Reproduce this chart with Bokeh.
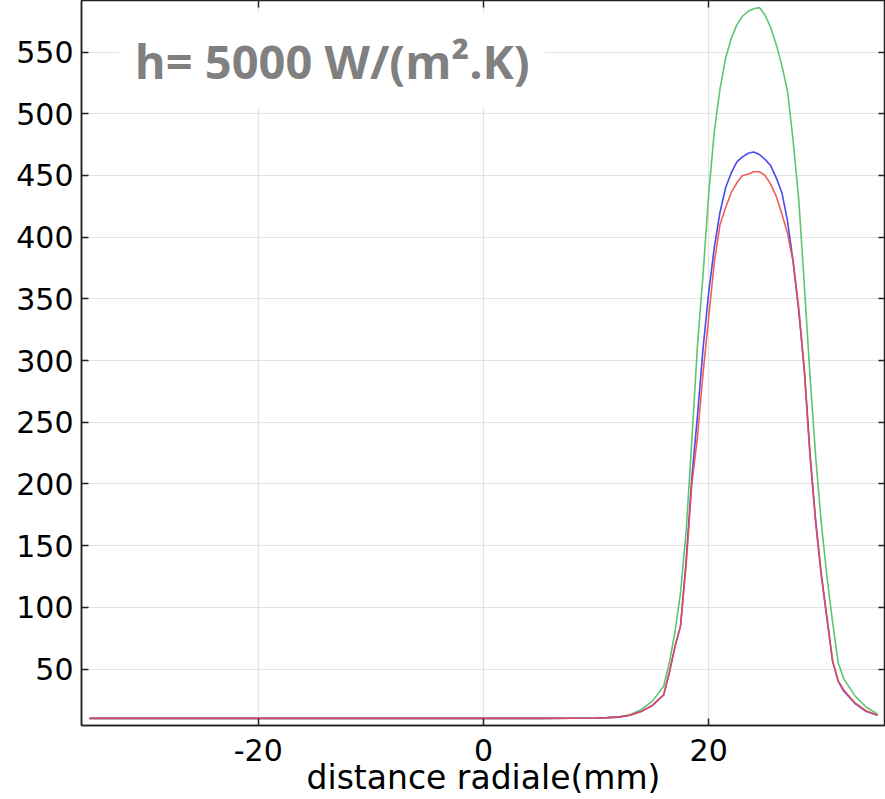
from bokeh.plotting import figure
from bokeh.models import Range1d, LinearAxis, FixedTicker, Label
from bokeh.embed import file_html
from bokeh.resources import INLINE

# ---- data ----
x_mm = [-35, -30, -25, -20, -15, -10, -5, 0, 5, 8, 10, 11, 12, 13, 14, 15, 16,
        16.5, 17, 17.5, 18, 18.5, 19, 19.5, 20, 20.5, 21, 21.5, 22, 22.5, 23, 23.5,
        24, 24.5, 25, 25.5, 26, 26.5, 27, 27.5, 28, 28.5, 29, 29.5, 30, 30.5, 31,
        31.5, 32, 33, 34, 35]

T_green = [10, 10, 10, 10, 10, 10, 10, 10, 10, 10.1, 10.3, 10.6, 11.2, 13.0, 17, 24, 36,
           55, 80, 112, 162, 235, 312, 370, 435, 486, 520, 545, 561, 572, 579, 583,
           585, 586, 580, 570, 556, 539, 518, 478, 430, 360, 287, 222, 168, 125, 88,
           55, 42, 28, 19, 13.5]

T_blue = [10, 10, 10, 10, 10, 10, 10, 10, 10, 10.1, 10.3, 10.6, 11.0, 12.5, 15.5, 20.5, 29,
          47, 68, 85, 138, 205, 255, 310, 355, 392, 420, 440, 452, 461, 465, 468,
          469, 467, 463, 458, 448, 436, 413, 380, 340, 292, 224, 170, 127, 92, 56,
          40, 32, 22, 15.5, 12.5]

T_red = [10, 10, 10, 10, 10, 10, 10, 10, 10, 10.1, 10.3, 10.6, 11.0, 12.5, 15.5, 20.5, 29,
         47, 68, 85, 135, 200, 238, 290, 335, 380, 410, 424, 436, 444, 450, 451,
         453, 453, 450, 443, 433, 419, 403, 380, 342, 290, 222, 168, 125, 90, 57,
         40.5, 33, 22.5, 16, 12.5]

x_ticks = [-20, 0, 20]
y_ticks = [50, 100, 150, 200, 250, 300, 350, 400, 450, 500, 550]
x_label = "distance radiale(mm)"
annotation = "h= 5000 W/(m².K)"

# ranges with 1% padding
xmin, xmax = min(x_mm), max(x_mm)
allT = T_green + T_blue + T_red
ymin, ymax = min(allT), max(allT)
xpad = 0.01 * (xmax - xmin)
ypad = 0.01 * (ymax - ymin)

p = figure(width=885, height=799, output_backend="svg", toolbar_location=None,
           x_range=Range1d(xmin - xpad, xmax + xpad),
           y_range=Range1d(ymin - ypad, ymax + ypad),
           min_border_left=81, min_border_right=0, min_border_top=0, min_border_bottom=0,
           margin=(0, 0, 0, 0))

p.background_fill_color = "white"
p.border_fill_color = "white"
p.outline_line_color = "#222222"
p.outline_line_width = 1.5

FONT = "DejaVu Sans"

# main axes
for ax in p.xaxis + p.yaxis:
    ax.axis_line_color = "#222222"
    ax.axis_line_width = 1.5
    ax.major_tick_in = 7
    ax.major_tick_out = 0
    ax.minor_tick_line_color = None
    ax.major_tick_line_color = "#222222"
    ax.major_tick_line_width = 1.5
    ax.major_label_text_font = FONT
    ax.major_label_text_font_size = "30px"
    ax.major_label_text_color = "black"

p.xaxis.ticker = FixedTicker(ticks=x_ticks)
p.yaxis.ticker = FixedTicker(ticks=y_ticks)
p.xaxis.major_label_standoff = 13
p.yaxis.major_label_standoff = 8
p.xaxis.major_label_overrides = {t: str(t) for t in x_ticks}
p.xaxis.axis_label = x_label
p.xaxis.axis_label_text_font = FONT
p.xaxis.axis_label_text_font_size = "33px"
p.xaxis.axis_label_text_font_style = "normal"
p.xaxis.axis_label_text_color = "black"
p.xaxis.axis_label_standoff = -6

# mirrored axes (ticks only) on top and right
top_ax = LinearAxis(ticker=FixedTicker(ticks=x_ticks), major_label_text_font_size="0px",
                    major_label_overrides={t: "" for t in x_ticks},
                    major_label_standoff=0, major_tick_in=7, major_tick_out=0,
                    minor_tick_line_color=None, axis_line_color=None,
                    major_tick_line_color="#222222", major_tick_line_width=1.5)
right_ax = LinearAxis(ticker=FixedTicker(ticks=y_ticks), major_label_text_font_size="0px",
                      major_label_overrides={t: "" for t in y_ticks},
                      major_label_standoff=0, major_tick_in=7, major_tick_out=0,
                      minor_tick_line_color=None, axis_line_color=None,
                      major_tick_line_color="#222222", major_tick_line_width=1.5)
p.add_layout(top_ax, "above")
p.add_layout(right_ax, "right")

p.xgrid.ticker = FixedTicker(ticks=x_ticks)
p.ygrid.ticker = FixedTicker(ticks=y_ticks)
p.grid.grid_line_color = "#e4e4e4"
p.grid.grid_line_width = 1.2

p.line(x_mm, T_green, line_color="#5fc472", line_width=1.6)
p.line(x_mm, T_blue, line_color="#4a4af0", line_width=1.6)
p.line(x_mm, T_red, line_color="#f04a4a", line_width=1.6, line_alpha=0.9)

lab = Label(x=-32.3, y=543, text=annotation, text_font="Open Sans",
            text_font_size="47px", text_font_style="bold", text_color="#808080",
            text_baseline="alphabetic", background_fill_color="white",
            padding=15)
p.add_layout(lab)

open("out.html", "w").write(file_html(p, INLINE))
